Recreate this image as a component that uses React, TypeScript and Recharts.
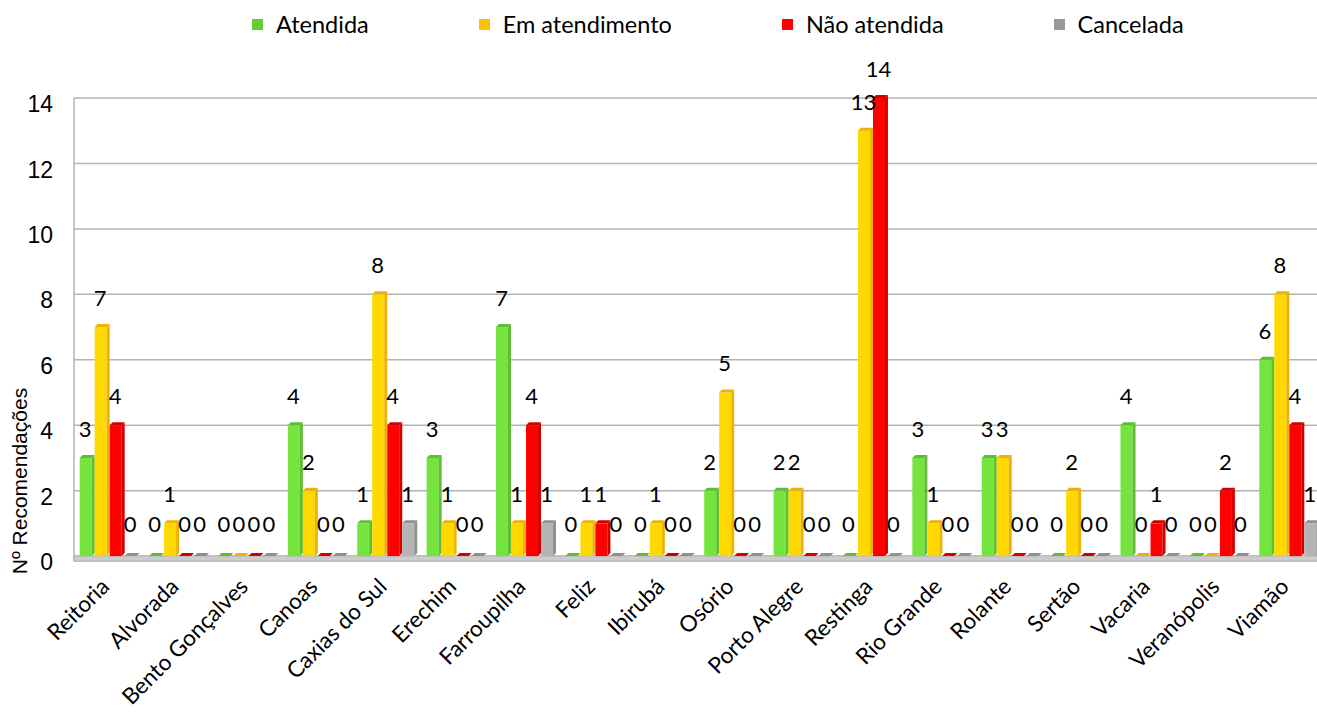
import {
  BarChart,
  Bar,
  XAxis,
  YAxis,
  CartesianGrid,
  LabelList,
  ReferenceArea,
} from 'recharts';

const categories = [
  'Reitoria',
  'Alvorada',
  'Bento Gonçalves',
  'Canoas',
  'Caxias do Sul',
  'Erechim',
  'Farroupilha',
  'Feliz',
  'Ibirubá',
  'Osório',
  'Porto Alegre',
  'Restinga',
  'Rio Grande',
  'Rolante',
  'Sertão',
  'Vacaria',
  'Veranópolis',
  'Viamão',
];

const atendida = [3, 0, 0, 4, 1, 3, 7, 0, 0, 2, 2, 0, 3, 3, 0, 4, 0, 6];
const emAtendimento = [7, 1, 0, 2, 8, 1, 1, 1, 1, 5, 2, 13, 1, 3, 2, 0, 0, 8];
const naoAtendida = [4, 0, 0, 0, 4, 0, 4, 1, 0, 0, 0, 14, 0, 0, 0, 1, 2, 4];
const cancelada = [0, 0, 0, 0, 1, 0, 1, 0, 0, 0, 0, 0, 0, 0, 0, 0, 0, 1];

const yTicks = [0, 2, 4, 6, 8, 10, 12, 14];

const series = [
  { key: 'atendida', name: 'Atendida', front: '#75E43F', dark: '#5DBE30', legend: '#66CC33' },
  { key: 'emAtendimento', name: 'Em atendimento', front: '#FFD800', dark: '#EEB200', legend: '#FFC000' },
  { key: 'naoAtendida', name: 'Não atendida', front: '#FF0000', dark: '#D40000', legend: '#FF0000' },
  { key: 'cancelada', name: 'Cancelada', front: '#B4B4B4', dark: '#909090', legend: '#999999' },
];

const data = categories.map((name, i) => ({
  name,
  atendida: atendida[i],
  emAtendimento: emAtendimento[i],
  naoAtendida: naoAtendida[i],
  cancelada: cancelada[i],
}));

const calibri = 'Lato, "Open Sans", sans-serif';
const arial = '"Liberation Sans", Arial, sans-serif';
const DEPTH = 3;

// fake 3D column: front face, darker right side and top
function Bar3D(props: any) {
  const { x, y, width, height, front, dark } = props;
  const d = DEPTH;
  if (height <= 3.5) {
    return (
      <polygon
        points={`${x},${y + height} ${x + d},${y} ${x + width},${y} ${x + width - d},${y + height}`}
        fill={dark}
      />
    );
  }
  return (
    <g>
      <rect x={x} y={y} width={width - d} height={height} fill={front} />
      <polygon
        points={`${x + width - d},${y} ${x + width},${y - d} ${x + width},${y + height - d} ${x + width - d},${y + height}`}
        fill={dark}
      />
      <polygon
        points={`${x},${y} ${x + d},${y - d} ${x + width},${y - d} ${x + width - d},${y}`}
        fill={dark}
      />
    </g>
  );
}

function CategoryTick({ x, y, payload }: any) {
  return (
    <g transform={`translate(${x},${y})`}>
      <text
        x={2}
        y={19}
        transform="rotate(-45, 2, 19)"
        textAnchor="end"
        fontFamily={calibri}
        fontSize={22.5}
        fill="#000"
      >
        {payload.value}
      </text>
    </g>
  );
}

function YTitle({ viewBox }: any) {
  const cx = viewBox.x + 19;
  const cy = 481;
  return (
    <text
      x={cx}
      y={cy}
      transform={`rotate(-90, ${cx}, ${cy})`}
      textAnchor="middle"
      dominantBaseline="central"
      fontFamily={arial}
      fontSize={21}
      fill="#000"
    >
      Nº Recomendações
    </text>
  );
}

function LegendRow() {
  return (
    <div
      style={{
        position: 'absolute',
        top: 10,
        left: 252,
        display: 'flex',
        alignItems: 'center',
        fontFamily: calibri,
        fontSize: 23.5,
        color: '#000',
        whiteSpace: 'nowrap',
      }}
    >
      {series.map((s) => (
        <div
          key={s.key}
          style={{ display: 'flex', alignItems: 'center', marginRight: 110 }}
        >
          <span
            style={{
              display: 'inline-block',
              width: 11,
              height: 11,
              background: s.legend,
              marginRight: 13,
            }}
          />
          <span>{s.name}</span>
        </div>
      ))}
    </div>
  );
}

export default function App() {
  return (
    <div
      style={{
        position: 'relative',
        width: 1317,
        height: 713,
        overflow: 'hidden',
        background: '#fff',
      }}
    >
      <style>{'body{margin:0;}'}</style>
      <LegendRow />
      <BarChart
        width={1330}
        height={713}
        data={data}
        margin={{ top: 98, right: 7, bottom: 0, left: 0 }}
        barCategoryGap="8.2%"
        barGap={0}
      >
        <CartesianGrid vertical={false} stroke="#b3b3b3" strokeWidth={1.5} />
        <ReferenceArea y1={-0.15} y2={0} fill="#cccccc" fillOpacity={1} stroke="#b8b8b8" />
        <XAxis
          dataKey="name"
          interval={0}
          height={152}
          axisLine={false}
          tickLine={false}
          tick={<CategoryTick />}
        />
        <YAxis
          width={74}
          domain={[-0.15, 14]}
          ticks={yTicks}
          interval={0}
          axisLine={{ stroke: '#b3b3b3', strokeWidth: 1.5 }}
          tickLine={false}
          tickSize={0}
          tickMargin={21}
          tick={{ fontFamily: arial, fontSize: 23, fill: '#000', dy: 6 }}
          label={<YTitle />}
        />
        {series.map((s) => (
          <Bar
            key={s.key}
            dataKey={s.key}
            name={s.name}
            isAnimationActive={false}
            minPointSize={3}
            shape={(p: any) => <Bar3D {...p} front={s.front} dark={s.dark} />}
          >
            <LabelList
              dataKey={s.key}
              position="top"
              offset={21}
              dx={-2}
              fontFamily={calibri}
              fontSize={22}
              fill="#000"
            />
          </Bar>
        ))}
      </BarChart>
    </div>
  );
}
